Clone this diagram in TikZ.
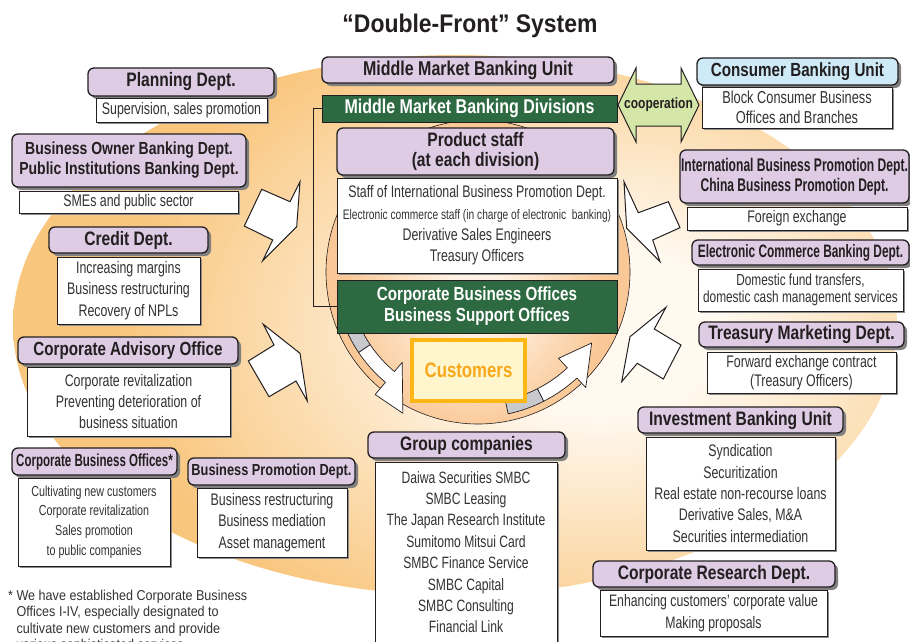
\documentclass[tikz,border=0pt]{standalone}
\usepackage{fontspec}
\setmainfont{Liberation Sans}[FakeStretch=0.8]
\newfontfamily\regfont{Liberation Sans}[FakeStretch=0.74]
\newfontfamily\ttlfont{Liberation Sans}[FakeStretch=0.9]
\newfontfamily\ftnfont{Liberation Sans}[FakeStretch=0.88]
\newfontfamily\nrwfont{Liberation Sans}[FakeStretch=0.66]
\usetikzlibrary{shadows}

\definecolor{lav}{RGB}{222,204,228}
\definecolor{lblue}{RGB}{206,234,247}
\definecolor{dgreen}{RGB}{45,106,66}
\definecolor{ink}{RGB}{35,31,32}
\definecolor{txt}{RGB}{50,50,50}
\definecolor{bglight}{RGB}{255,249,240}
\definecolor{bgorange}{RGB}{249,198,126}
\definecolor{circlight}{RGB}{255,242,228}
\definecolor{circorange}{RGB}{250,200,150}
\definecolor{coop}{RGB}{212,230,168}
\definecolor{custborder}{RGB}{253,183,20}
\definecolor{custfill}{RGB}{255,246,206}
\definecolor{custtext}{RGB}{247,168,27}
\definecolor{arrgray}{RGB}{200,201,204}

\pgfdeclareradialshading{bgshade}{\pgfpoint{0bp}{0bp}}{color(0bp)=(bglight); color(5bp)=(bglight); color(20bp)=(bgorange); color(50bp)=(bgorange)}
\pgfdeclareradialshading{circshade}{\pgfpoint{0bp}{0bp}}{color(0bp)=(circlight); color(3.5bp)=(circlight); color(15bp)=(circorange); color(50bp)=(circorange)}

\newcommand{\hdf}[2]{\bfseries\fontsize{#1}{#2}\selectfont}
\newcommand{\nhdf}[2]{\nrwfont\bfseries\fontsize{#1}{#2}\selectfont}
\newcommand{\dtf}[2]{\regfont\fontsize{#1}{#2}\selectfont}

\begin{document}
\begin{tikzpicture}[x=1pt,y=-1pt,
  hdr/.style={draw=ink, line width=1.3pt, fill=lav, rounded corners=6pt, inner sep=0pt, align=center, text=ink,
    drop shadow={shadow xshift=3pt, shadow yshift=-3pt, fill=black!50, opacity=1}},
  det/.style={draw=ink, line width=0.9pt, fill=white, inner sep=0pt, align=center, text=txt, font=\dtf{16.75}{21.3},
    drop shadow={shadow xshift=1.5pt, shadow yshift=-1.5pt, fill=black!45, opacity=1}},
  grn/.style={draw=ink, line width=1pt, fill=dgreen, text=white, inner sep=0pt, align=center},
  zz/.style={draw=ink, line width=1pt, fill=white, line join=miter},
  cur/.style={draw=ink, line width=0.7pt, line join=round}]
\useasboundingbox (0,0) rectangle (910,642);
\begin{scope}
\clip (0,0) rectangle (910,642);

% background ellipse
\begin{scope}
  \clip (455,325) ellipse [x radius=442, y radius=270];
  \shade[shading=bgshade] (0,-90) rectangle (1200,750);
\end{scope}

% central circle
\begin{scope}
  \clip (478,272) circle [radius=152];
  \shade[shading=circshade] (255,80) rectangle (695,520);
\end{scope}
\draw[ink, line width=0.6pt] (478,272) circle [radius=152];

% curved arrows inside the circle
\filldraw[cur, fill=arrgray] ([shift={(478,272)}]162:144) arc[start angle=162, end angle=146, radius=144]
  -- ([shift={(478,272)}]146:130) arc[start angle=146, end angle=162, radius=130] -- cycle;
\filldraw[cur, fill=white] ([shift={(478,272)}]146:144) arc[start angle=146, end angle=130, radius=144]
  -- ([shift={(478,272)}]130:160) -- ([shift={(478,272)}]118:160)
  -- ([shift={(478,272)}]130:118) -- ([shift={(478,272)}]130:130)
  arc[start angle=130, end angle=146, radius=130] -- cycle;
\filldraw[cur, fill=arrgray] ([shift={(478,272)}]78:145) arc[start angle=78, end angle=63, radius=145]
  -- ([shift={(478,272)}]63:131) arc[start angle=63, end angle=78, radius=131] -- cycle;
\filldraw[cur, fill=white] ([shift={(478,272)}]63:145) arc[start angle=63, end angle=47, radius=145]
  -- ([shift={(478,272)}]47:158) -- ([shift={(478,272)}]32:134)
  -- ([shift={(478,272)}]47:118) -- ([shift={(478,272)}]47:131)
  arc[start angle=47, end angle=63, radius=131] -- cycle;

% zigzag arrows
\filldraw[zz] (300,181.7) -- (290,201.7) -- (261.7,189.3) -- (244.3,226) -- (272.7,240) -- (262.7,260.7) -- (296.7,226.7) -- cycle;
\filldraw[zz] (263.3,324.3) -- (274,345) -- (248.3,361) -- (269,396.7) -- (296,381) -- (307.3,401) -- (300,353.3) -- cycle;
\filldraw[zz] (624,181.7) -- (638.3,212.7) -- (668.3,201.7) -- (680,227.7) -- (652.7,240) -- (660,261.7) -- (626.7,228.3) -- cycle;
\filldraw[zz] (666,307.3) -- (654.3,329) -- (681,345) -- (663.3,379) -- (637.3,363.3) -- (621.7,381.7) -- (630,336.7) -- cycle;

% cooperation arrow
\filldraw[draw=ink, line width=1pt, fill=coop, line join=miter] (618,105) -- (636,68) -- (636,84) -- (681,84) -- (681,68) -- (699,105)
  -- (681,142) -- (681,126) -- (636,126) -- (636,142) -- cycle;
\node[font=\hdf{15}{18}, text=ink, inner sep=0pt] (coopT) at (658.5,105) {cooperation};

% title
\node[font=\ttlfont\bfseries\fontsize{25.5}{28}\selectfont, text=ink, inner sep=0pt] (title) at (470,26) {“Double-Front” System};

% left column
\node[hdr, font=\hdf{19.5}{20}, minimum width=186pt, minimum height=28pt] (plan) at (181,82) {Planning Dept.};
\node[det, minimum width=171pt, minimum height=24pt] (planD) at (181.5,110) {Supervision, sales promotion};

\node[hdr, font=\hdf{17.5}{20}, minimum width=234pt, minimum height=53pt] (bob) at (129,160.5) {Business Owner Banking Dept.\\Public Institutions Banking Dept.};
\node[det, minimum width=219pt, minimum height=22pt] (bobD) at (128.5,202) {SMEs and public sector};

\node[hdr, font=\hdf{19.5}{20}, minimum width=159pt, minimum height=26pt] (credit) at (128.5,240) {Credit Dept.};
\node[det, minimum width=143pt, minimum height=67pt] (creditD) at (128.5,290.5) {Increasing margins\\Business restructuring\\Recovery of NPLs};

\node[hdr, font=\hdf{19}{20}, minimum width=220pt, minimum height=27pt] (cao) at (128,350.5) {Corporate Advisory Office};
\node[det, font=\dtf{16.75}{21}, minimum width=203pt, minimum height=69pt] (caoD) at (128.5,401.5) {Corporate revitalization\\Preventing deterioration of\\business situation};

\node[hdr, font=\nhdf{17.5}{20}, minimum width=165pt, minimum height=27pt] (cbo) at (94.5,461.5) {Corporate Business Offices*};
\node[det, font=\dtf{14.5}{19.7}, minimum width=152pt, minimum height=88pt] (cboD) at (94,522) {Cultivating new customers\\Corporate revitalization\\Sales promotion\\to public companies};

\node[hdr, font=\hdf{16}{20}, minimum width=167pt, minimum height=27pt] (bpd) at (271.5,471.5) {Business Promotion Dept.};
\node[det, minimum width=150pt, minimum height=69pt] (bpdD) at (272,522.5) {Business restructuring\\Business mediation\\Asset management};

% centre column
\node[hdr, font=\hdf{20}{20}, minimum width=292pt, minimum height=26pt] (mmbu) at (468,70) {Middle Market Banking Unit};
\node[grn, font=\hdf{20}{20}, minimum width=295pt, minimum height=27pt] (mmbd) at (469.5,108.5) {Middle Market Banking Divisions};
\node[hdr, font=\hdf{19.5}{20}, minimum width=277pt, minimum height=47pt] (prod) at (475.5,151.5) {Product staff\\(at each division)};
\node[det, minimum width=280pt, minimum height=95pt] (prodD) at (477,225.5) {Staff of International Business Promotion Dept.\\{\dtf{13.8}{21.3}Electronic commerce staff (in charge of electronic\ \ banking)}\\Derivative Sales Engineers\\Treasury Officers};
\node[grn, font=\hdf{19}{21}, minimum width=280pt, minimum height=53pt] (cbso) at (477,306.5) {Corporate Business Offices\\Business Support Offices};
\node[draw=custborder, line width=4pt, fill=custfill, text=custtext, font=\hdf{21}{24}, inner sep=0pt, minimum width=113pt, minimum height=61pt] (cust) at (468.5,370.5) {Customers};

\coordinate (brA) at (313,108.5);
\coordinate (brB) at (313,306.5);
\draw[ink, line width=0.9pt] (mmbd.west) -- (brA) -- (brB) -- (cbso.west);

\node[hdr, font=\hdf{19.5}{20}, minimum width=197pt, minimum height=26pt] (grp) at (466.5,445) {Group companies};
\node[det, minimum width=182pt, minimum height=200pt, anchor=north] (grpD) at (466,462) {};
\node[text=txt, font=\dtf{16.4}{21.4}, align=center, anchor=north, inner sep=0pt] (grpT) at (466,471) {Daiwa Securities SMBC\\SMBC Leasing\\The Japan Research Institute\\Sumitomo Mitsui Card\\SMBC Finance Service\\SMBC Capital\\SMBC Consulting\\Financial Link};

% right column
\node[hdr, fill=lblue, font=\hdf{19}{20}, minimum width=201pt, minimum height=27pt] (cbu) at (797.5,71.5) {Consumer Banking Unit};
\node[det, font=\dtf{17.3}{20}, minimum width=190pt, minimum height=41pt] (cbuD) at (797,107.5) {Block Consumer Business\\Offices and Branches};

\node[hdr, font=\nhdf{18.3}{20}, minimum width=229pt, minimum height=53pt] (ibpd) at (794.5,176.5) {International Business Promotion Dept.\\China Business Promotion Dept.};
\node[det, minimum width=220pt, minimum height=23pt] (ibpdD) at (797,218.5) {Foreign exchange};

\node[hdr, font=\nhdf{18}{20}, minimum width=217pt, minimum height=25pt] (ecbd) at (800.5,252.5) {Electronic Commerce Banking Dept.};
\node[det, font=\dtf{16}{17.5}, minimum width=205pt, minimum height=42pt] (ecbdD) at (800.5,290) {Domestic fund transfers,\\domestic cash management services};

\node[hdr, font=\hdf{19.5}{20}, minimum width=205pt, minimum height=25pt] (tmd) at (801.5,334.5) {Treasury Marketing Dept.};
\node[det, font=\dtf{16.75}{19}, minimum width=189pt, minimum height=41pt] (tmdD) at (801.5,372.5) {Forward exchange contract\\(Treasury Officers)};

\node[hdr, font=\hdf{19.5}{20}, minimum width=205pt, minimum height=26pt] (ibu) at (740.5,420) {Investment Banking Unit};
\node[det, minimum width=189pt, minimum height=113pt] (ibuD) at (740.5,493.5) {Syndication\\Securitization\\Real estate non-recourse loans\\Derivative Sales, M\&A\\Securities intermediation};

\node[hdr, font=\hdf{19.5}{20}, minimum width=242pt, minimum height=26pt] (crd) at (714,574) {Corporate Research Dept.};
\node[det, font=\dtf{16.6}{22}, minimum width=227pt, minimum height=46pt] (crdD) at (713.5,613) {Enhancing customers’ corporate value\\Making proposals};

% footnote
\node[anchor=north west, inner sep=0pt, align=left, text=txt, font=\ftnfont\fontsize{14.3}{16.5}\selectfont] (note) at (8,589.5)
  {* We have established Corporate Business\\\hspace*{8.4pt}Offices I-IV, especially designated to\\\hspace*{8.4pt}cultivate new customers and provide\\\hspace*{8.4pt}various sophisticated services.};
\end{scope}
\end{tikzpicture}
\end{document}
